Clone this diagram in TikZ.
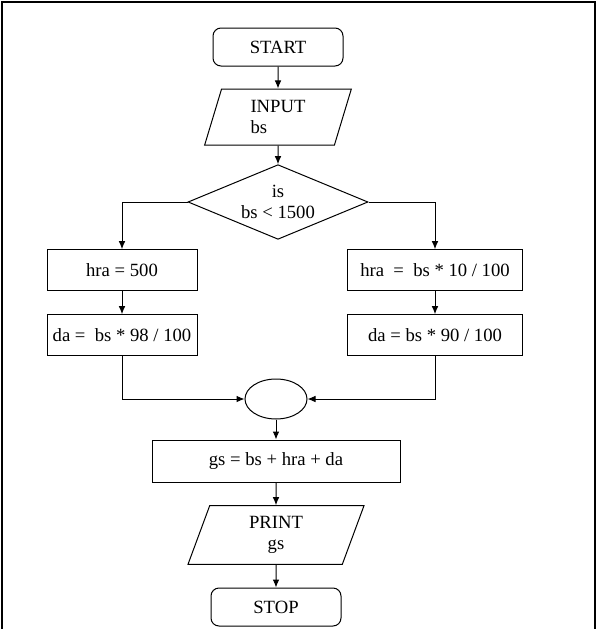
\documentclass[tikz,border=0pt]{standalone}
\usepackage{fontspec}
\setmainfont{Liberation Serif}
\usetikzlibrary{arrows.meta}
\usetikzlibrary{shapes.geometric}

\begin{document}
\begin{tikzpicture}[x=.75pt, y=-.75pt, font=\fontsize{14}{16}\selectfont,
  line width=.75pt, >={Latex[length=6pt,width=5pt]},
  term/.style={draw, rounded corners=6pt, minimum width=97.5pt, minimum height=28.5pt},
  io/.style={draw, trapezium, trapezium stretches body, inner sep=0pt},
  test/.style={draw, diamond, aspect=2.4, inner sep=0pt, minimum width=135pt, minimum height=56pt},
  box/.style={draw, inner sep=2pt, minimum height=30.5pt}]
\useasboundingbox (0,0) rectangle (604,629);
\draw[line width=1.1pt] (2,629)--(2,2)--(595,2)--(595,629);

\node[term] (start) at (278,47) {START};
\node[io, trapezium left angle=63.4, trapezium right angle=116.6,
  minimum width=110pt, minimum height=42pt, align=left] (input) at (278,117) {INPUT\\bs};
\node[test, align=center] (cond) at (278,202) {is\\bs < 1500};

\node[box, minimum width=112.5pt] (hraA) at (122,270) {hra = 500};
\node[box, minimum width=112.5pt] (daA) at (122,335) {da =~ bs * 98 / 100};
\node[box, minimum width=131pt] (hraB) at (435,270) {hra~ = ~bs * 10 / 100};
\node[box, minimum width=131pt] (daB) at (435,335) {da = bs * 90 / 100};

\node[draw, ellipse, minimum width=46.5pt, minimum height=30pt] (join) at (276,399) {};
\node[box, minimum width=186pt, minimum height=31.5pt] (gross) at (276,461) {gs = bs + hra + da};
\node[io, trapezium left angle=60, trapezium right angle=120,
  minimum width=132pt, minimum height=44pt, align=center] (print) at (276,535) {PRINT\\gs};
\node[term] (stop) at (276,607) {STOP};

\draw[->] (start) -- (input);
\draw[->] (input) -- (cond);
\draw[->] (cond.west) -| (hraA.north);
\draw[->] (cond.east) -| (hraB.north);
\draw[->] (hraA) -- (daA);
\draw[->] (hraB) -- (daB);
\draw[->] (daA.south) |- (join.west);
\draw[->] (daB.south) |- (join.east);
\draw[->] (join) -- (gross);
\draw[->] (gross) -- (print);
\draw[->] (print) -- (stop);
\end{tikzpicture}
\end{document}
